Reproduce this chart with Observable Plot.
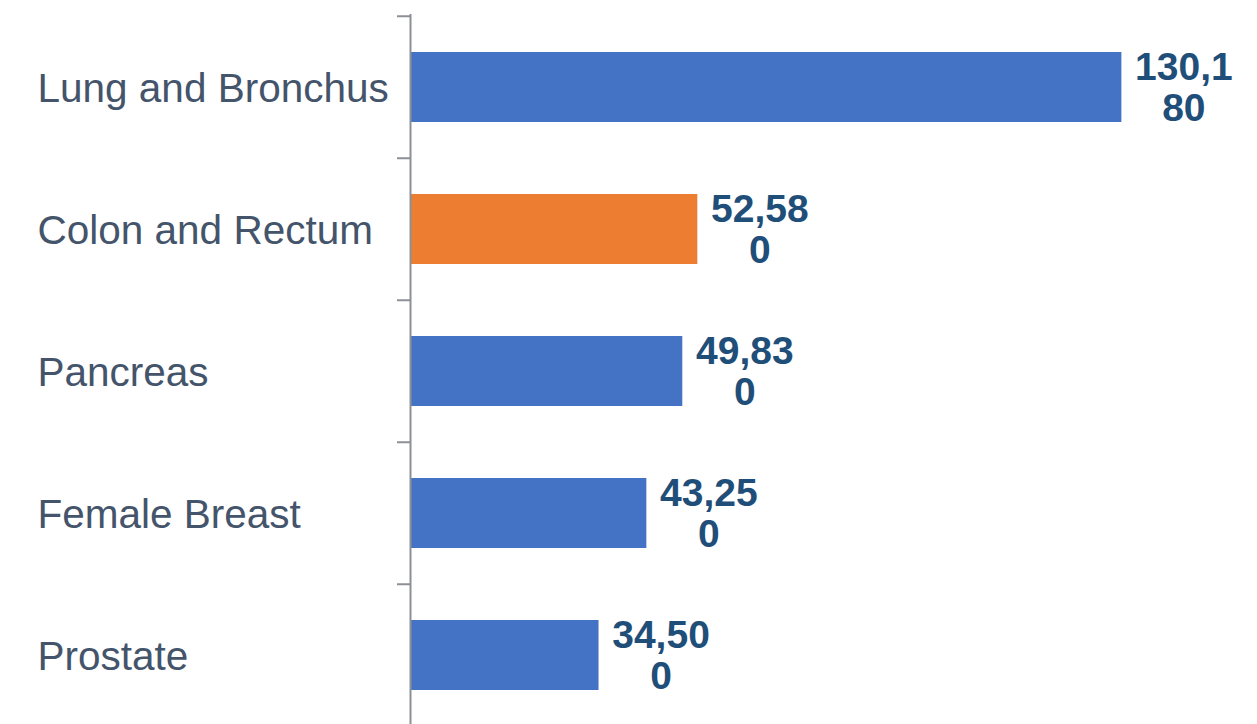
<!DOCTYPE html>
<html>
<head>
<meta charset="utf-8">
<script src="https://cdn.jsdelivr.net/npm/d3@7"></script>
<script src="https://cdn.jsdelivr.net/npm/@observablehq/plot@0.6"></script>
<style>
  html, body { margin: 0; padding: 0; background: #ffffff; }
  #chart svg { display: block; }
</style>
</head>
<body>
<div id="chart"></div>
<script>
const categories = ["Lung and Bronchus", "Colon and Rectum", "Pancreas", "Female Breast", "Prostate"];
const values = [130180, 52580, 49830, 43250, 34500];
const highlight = "Colon and Rectum";

const blue = "#4472C4";
const orange = "#ED7D31";

const data = categories.map((c, i) => {
  const s = d3.format(",")(values[i]);
  // the original wraps the value label after five characters
  const label = s.length > 5 ? s.slice(0, 5) + "\n" + s.slice(5) : s;
  return {cat: categories[i], value: values[i], label};
});

const W = 1257, H = 724;
const ML = 410;

const chart = Plot.plot({
  width: W,
  height: H,
  marginLeft: ML,
  marginRight: 0,
  marginTop: 14,
  marginBottom: 0,
  style: {fontFamily: "'Liberation Sans', Arial, sans-serif", background: "#ffffff"},
  x: {domain: [0, 155000], axis: null},
  y: {domain: categories, range: [14.5, 727], paddingInner: 0.509, paddingOuter: 0.2545, axis: null, label: null},
  marks: [
    Plot.barX(data, {
      y: "cat", x: "value",
      fill: d => d.cat === highlight ? orange : blue
    }),
    // axis line
    Plot.ruleX([0], {stroke: "#8c9096", strokeWidth: 2}),
    // boundary ticks between categories
    Plot.axisY({tickSize: 13, text: null, label: null, stroke: "#8c9096", strokeWidth: 2, dy: -71.25}),
    // category labels, left-aligned
    Plot.text(categories, {
      y: d => d, frameAnchor: "left", dx: -373, dy: 2, textAnchor: "start",
      fill: "#44546A", fontSize: 40.5
    }),
    // value labels
    Plot.text(data, {
      y: "cat", x: "value", text: "label", dx: 62, textAnchor: "middle",
      lineAnchor: "middle", lineHeight: 1.05,
      fill: "#1F4E79", fontSize: 39, fontWeight: "bold"
    })
  ]
});

document.getElementById("chart").appendChild(chart);
</script>
</body>
</html>
